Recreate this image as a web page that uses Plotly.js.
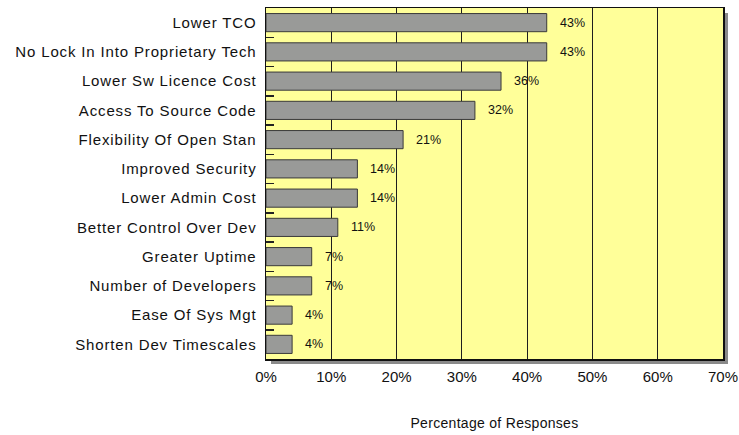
<!DOCTYPE html>
<html>
<head>
<meta charset="utf-8">
<script src="https://cdn.plot.ly/plotly-3.0.1.min.js"></script>
<style>
  html, body { margin: 0; padding: 0; background: #ffffff; }
  #chart { width: 739px; height: 435px; }
  .ytick text { letter-spacing: 0.85px; }
  .g-xtitle text { letter-spacing: 0.3px; }
</style>
</head>
<body>
<div id="chart"></div>
<script>
const categories = [
  "Lower TCO",
  "No Lock In Into Proprietary Tech",
  "Lower Sw Licence Cost",
  "Access To Source Code",
  "Flexibility Of Open Stan",
  "Improved Security",
  "Lower Admin Cost",
  "Better Control Over Dev",
  "Greater Uptime",
  "Number of Developers",
  "Ease Of Sys Mgt",
  "Shorten Dev Timescales"
];
const values = [43, 43, 36, 32, 21, 14, 14, 11, 7, 7, 4, 4];
const xTickValues = [0, 10, 20, 30, 40, 50, 60, 70];
const xTickLabels = ["0%", "10%", "20%", "30%", "40%", "50%", "60%", "70%"];

const W = 739, H = 435;
const margin = { l: 266, r: 16, t: 8, b: 76 };
const pw = W - margin.l - margin.r;
const ph = H - margin.t - margin.b;
const sd = 5; // shadow offset in px

const trace = {
  type: "bar",
  orientation: "h",
  x: values,
  y: categories,
  width: 0.62,
  marker: { color: "#999a98", line: { color: "#3a3a3a", width: 1 } },
  hoverinfo: "none"
};

const annotations = values.map((v, i) => ({
  x: v, y: categories[i], xref: "x", yref: "y",
  text: v + "%", showarrow: false, xanchor: "left", yanchor: "middle",
  xshift: 11,
  font: { family: "Liberation Sans, Arial, sans-serif", size: 12.5, color: "#111111" }
}));

const layout = {
  width: W, height: H,
  margin: margin,
  paper_bgcolor: "#ffffff",
  plot_bgcolor: "#ffff99",
  showlegend: false,
  font: { family: "Liberation Sans, Arial, sans-serif", color: "#111111" },
  xaxis: {
    range: [0, 70],
    tickvals: xTickValues,
    ticktext: xTickLabels,
    showgrid: true, gridcolor: "#1e1e1e", gridwidth: 1,
    zeroline: false,
    showline: true, mirror: true, linecolor: "#111111", linewidth: 1.5,
    ticks: "",
    ticklabelstandoff: 3,
    tickfont: { size: 15, color: "#111111" },
    fixedrange: true,
    title: { text: "Percentage of Responses", font: { size: 14, color: "#111111" }, standoff: 34 }
  },
  yaxis: {
    type: "category",
    autorange: "reversed",
    showgrid: false, zeroline: false,
    showline: true, mirror: true, linecolor: "#111111", linewidth: 1.5,
    ticks: "inside", tickson: "boundaries", ticklen: 8, tickcolor: "#222222", tickwidth: 1.5,
    ticklabelstandoff: 5,
    tickfont: { size: 15, color: "#111111" },
    fixedrange: true
  },
  annotations: annotations,
  shapes: [
    { type: "rect", xref: "paper", yref: "paper", layer: "below",
      x0: 1, x1: 1 + sd / pw, y0: -sd / ph, y1: 1 - sd / ph,
      fillcolor: "#8a8a8a", line: { width: 0 } },
    { type: "rect", xref: "paper", yref: "paper", layer: "below",
      x0: sd / pw, x1: 1 + sd / pw, y0: -sd / ph, y1: 0,
      fillcolor: "#8a8a8a", line: { width: 0 } }
  ]
};

Plotly.newPlot("chart", [trace], layout, { displayModeBar: false, staticPlot: true });
</script>
</body>
</html>
